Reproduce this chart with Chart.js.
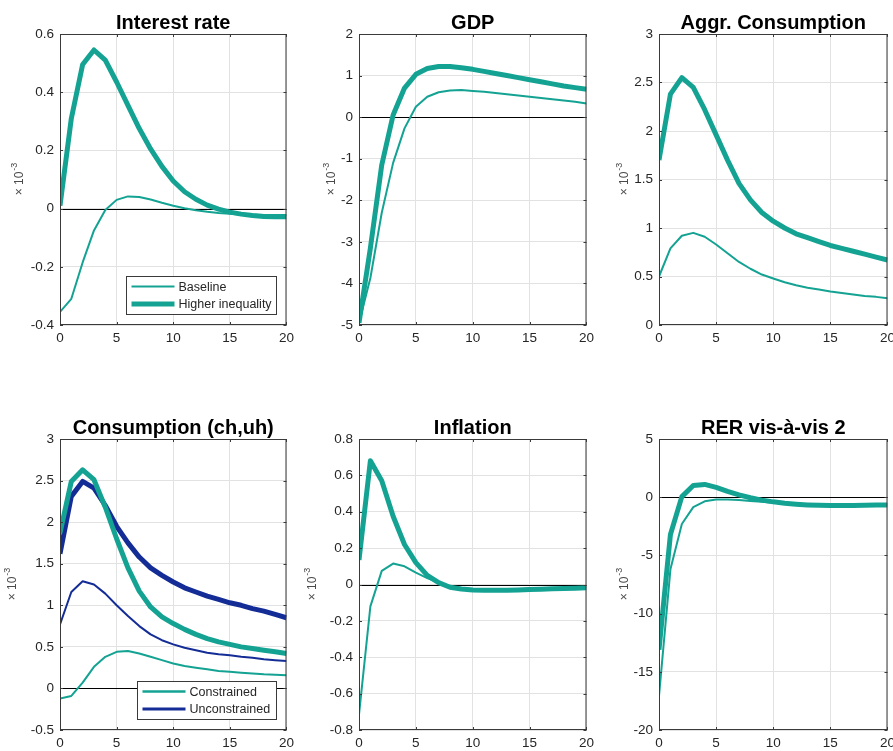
<!DOCTYPE html>
<html>
<head>
<meta charset="utf-8">
<script src="https://cdn.jsdelivr.net/npm/chart.js@4.4.1/dist/chart.umd.min.js"></script>
<style>
html, body { margin: 0; padding: 0; background: #fff; overflow: hidden; width: 893px; height: 751px; }
canvas { position: absolute; }
</style>
</head>
<body>
<script>
// horizon (quarters) and tick labels
const horizon = [0,1,2,3,4,5,6,7,8,9,10,11,12,13,14,15,16,17,18,19,20];
const xTicks = [0, 5, 10, 15, 20];

// Interest rate
const rateTicks = [-0.4, -0.2, 0, 0.2, 0.4, 0.6];
const rateBase = [-0.355,-0.31,-0.185,-0.075,-0.005,0.03,0.042,0.04,0.031,0.02,0.01,0.001,-0.006,-0.011,-0.015,-0.018,-0.02,-0.021,-0.022,-0.022,-0.022];
const rateHigh = [0.01,0.31,0.495,0.545,0.51,0.435,0.355,0.275,0.205,0.145,0.095,0.058,0.032,0.012,-0.002,-0.012,-0.019,-0.024,-0.027,-0.028,-0.028];

// GDP
const gdpTicks = [-5, -4, -3, -2, -1, 0, 1, 2];
const gdpBase = [-4.95,-3.87,-2.3,-1.1,-0.27,0.25,0.49,0.6,0.64,0.65,0.63,0.61,0.58,0.55,0.52,0.49,0.46,0.43,0.4,0.37,0.33];
const gdpHigh = [-4.95,-3.15,-1.15,0.05,0.7,1.03,1.17,1.22,1.22,1.19,1.15,1.1,1.05,1.0,0.95,0.9,0.85,0.8,0.75,0.71,0.67];

// Aggregate consumption
const consTicks = [0, 0.5, 1, 1.5, 2, 2.5, 3];
const consBase = [0.5,0.79,0.92,0.95,0.91,0.83,0.74,0.65,0.58,0.52,0.48,0.44,0.41,0.385,0.365,0.345,0.33,0.315,0.3,0.29,0.275];
const consHigh = [1.7,2.38,2.55,2.45,2.22,1.96,1.7,1.46,1.29,1.16,1.07,1.0,0.94,0.9,0.86,0.82,0.79,0.76,0.73,0.7,0.67];

// Consumption of constrained (ch) and unconstrained (uh) households
const chuhTicks = [-0.5, 0, 0.5, 1, 1.5, 2, 2.5, 3];
const chBase = [-0.12,-0.09,0.07,0.26,0.38,0.44,0.45,0.42,0.38,0.34,0.3,0.27,0.25,0.23,0.21,0.2,0.19,0.18,0.17,0.165,0.16];
const chHigh = [1.87,2.49,2.63,2.51,2.18,1.8,1.45,1.17,0.98,0.86,0.78,0.71,0.65,0.6,0.56,0.53,0.5,0.48,0.46,0.44,0.42];
const uhBase = [0.77,1.16,1.29,1.25,1.14,1.0,0.87,0.75,0.65,0.58,0.53,0.49,0.46,0.43,0.41,0.4,0.38,0.37,0.35,0.34,0.33];
const uhHigh = [1.62,2.31,2.49,2.41,2.2,1.95,1.75,1.58,1.45,1.36,1.28,1.21,1.16,1.11,1.07,1.03,1.0,0.96,0.93,0.89,0.85];

// Inflation
const inflTicks = [-0.8, -0.6, -0.4, -0.2, 0, 0.2, 0.4, 0.6, 0.8];
const inflBase = [-0.715,-0.12,0.075,0.115,0.1,0.065,0.035,0.01,-0.01,-0.02,-0.025,-0.027,-0.027,-0.026,-0.025,-0.024,-0.022,-0.021,-0.02,-0.019,-0.017];
const inflHigh = [0.135,0.68,0.57,0.375,0.22,0.12,0.05,0.01,-0.015,-0.025,-0.03,-0.032,-0.032,-0.031,-0.03,-0.028,-0.026,-0.024,-0.022,-0.02,-0.018];

// RER vis-a-vis 2
const rerTicks = [-20, -15, -10, -5, 0, 5];
const rerBase = [-17.1,-6.2,-2.3,-0.85,-0.35,-0.2,-0.2,-0.25,-0.32,-0.4,-0.47,-0.53,-0.58,-0.62,-0.65,-0.67,-0.67,-0.67,-0.66,-0.64,-0.62];
const rerHigh = [-13.1,-3.2,0.05,1.0,1.1,0.85,0.5,0.2,-0.05,-0.25,-0.4,-0.52,-0.6,-0.66,-0.7,-0.72,-0.72,-0.71,-0.7,-0.68,-0.66];

const TEAL = '#14a393';
const NAVY = '#142d96';
const TXT = '#262626';
const GRID = '#e2e2e2';
const FONT = "'Liberation Sans', Arial, sans-serif";
Chart.defaults.font.family = FONT;

const Y_W = 60, X_H = 26, PAD_T = 34, PAD_R = 12;

const panels = [
  { title: 'Interest rate', rect: [60, 34, 287, 325], yTicks: rateTicks, expOff: 40,
    lines: [{ label: 'Baseline', data: rateBase, color: TEAL, width: 2 },
            { label: 'Higher inequality', data: rateHigh, color: TEAL, width: 5 }],
    legend: { w: 150, items: [{ label: 'Baseline', color: TEAL, width: 2 },
                              { label: 'Higher inequality', color: TEAL, width: 5 }] } },
  { title: 'GDP', rect: [359, 34, 587, 325], yTicks: gdpTicks, expOff: 27,
    lines: [{ data: gdpBase, color: TEAL, width: 2 }, { data: gdpHigh, color: TEAL, width: 5 }] },
  { title: 'Aggr. Consumption', rect: [659, 34, 888, 325], yTicks: consTicks, expOff: 34,
    lines: [{ data: consBase, color: TEAL, width: 2 }, { data: consHigh, color: TEAL, width: 5 }] },
  { title: 'Consumption (ch,uh)', rect: [60, 439, 287, 730], yTicks: chuhTicks, expOff: 47,
    lines: [{ data: chBase, color: TEAL, width: 2 }, { data: uhBase, color: NAVY, width: 2 },
            { data: chHigh, color: TEAL, width: 5 }, { data: uhHigh, color: NAVY, width: 5 }],
    legend: { w: 139, items: [{ label: 'Constrained', color: TEAL, width: 2.5 },
                              { label: 'Unconstrained', color: NAVY, width: 3 }] } },
  { title: 'Inflation', rect: [359, 439, 587, 730], yTicks: inflTicks, expOff: 46,
    lines: [{ data: inflBase, color: TEAL, width: 2 }, { data: inflHigh, color: TEAL, width: 5 }] },
  { title: 'RER vis-\u00e0-vis 2', rect: [659, 439, 888, 730], yTicks: rerTicks, expOff: 34,
    lines: [{ data: rerBase, color: TEAL, width: 2 }, { data: rerHigh, color: TEAL, width: 5 }] }
];

// matlab-like axes: zero line, box, inward ticks, legend, title, exponent label
const matlabAxes = {
  id: 'matlabAxes',
  beforeDatasetsDraw(chart) {
    const { ctx, chartArea: a, scales: { y } } = chart;
    const y0 = Math.round(y.getPixelForValue(0)) + 0.5;
    if (y0 > a.top && y0 < a.bottom) {
      ctx.save();
      ctx.strokeStyle = '#000';
      ctx.lineWidth = 1;
      ctx.beginPath(); ctx.moveTo(a.left, y0); ctx.lineTo(a.right, y0); ctx.stroke();
      ctx.restore();
    }
  },
  afterDatasetsDraw(chart, args, o) {
    const { ctx, chartArea: a, scales: { x, y } } = chart;
    ctx.save();
    ctx.strokeStyle = '#3a3a3a';
    ctx.lineWidth = 1;
    ctx.strokeRect(a.left + 0.5, a.top + 0.5, a.right - a.left - 1, a.bottom - a.top - 1);
    ctx.beginPath();
    x.ticks.forEach(t => {
      const px = Math.round(x.getPixelForValue(t.value)) + 0.5;
      ctx.moveTo(px, a.bottom); ctx.lineTo(px, a.bottom - 3);
      ctx.moveTo(px, a.top); ctx.lineTo(px, a.top + 3);
    });
    y.ticks.forEach(t => {
      const py = Math.round(y.getPixelForValue(t.value)) + 0.5;
      ctx.moveTo(a.left, py); ctx.lineTo(a.left + 3, py);
      ctx.moveTo(a.right, py); ctx.lineTo(a.right - 3, py);
    });
    ctx.stroke();

    if (o.legend) {
      const L = o.legend, h = 38;
      const bx = Math.round(a.right - 10 - L.w) + 0.5;
      const by = Math.round(a.bottom - 11 - h) + 0.5;
      ctx.fillStyle = '#fff';
      ctx.fillRect(bx, by, L.w, h);
      ctx.strokeStyle = '#3a3a3a';
      ctx.lineWidth = 1;
      ctx.strokeRect(bx, by, L.w, h);
      ctx.font = '12.5px ' + FONT;
      ctx.textBaseline = 'middle';
      ctx.textAlign = 'left';
      L.items.forEach((it, i) => {
        const ry = by + 10 + i * 17.5;
        ctx.strokeStyle = it.color;
        ctx.lineWidth = it.width;
        ctx.beginPath(); ctx.moveTo(bx + 5, ry); ctx.lineTo(bx + 48, ry); ctx.stroke();
        ctx.fillStyle = TXT;
        ctx.fillText(it.label, bx + 52, ry + 1);
      });
    }
    ctx.restore();
  },
  afterDraw(chart, args, o) {
    const { ctx, chartArea: a } = chart;
    ctx.save();
    ctx.fillStyle = '#000';
    ctx.font = 'bold 20px ' + FONT;
    ctx.textAlign = 'center';
    ctx.textBaseline = 'alphabetic';
    ctx.fillText(o.title, (a.left + a.right) / 2, a.top - 5);

    // exponent label "x 10^-3", rotated
    ctx.translate(a.left - o.expOff, (a.top + a.bottom) / 2);
    ctx.rotate(-Math.PI / 2);
    ctx.fillStyle = '#4a4a4a';
    ctx.textAlign = 'left';
    ctx.textBaseline = 'middle';
    const base = '\u00d7 10', sup = '-3';
    ctx.font = '12px ' + FONT;
    const wb = ctx.measureText(base).width;
    ctx.font = '9px ' + FONT;
    const ws = ctx.measureText(sup).width;
    const x0 = -(wb + ws) / 2;
    ctx.font = '12px ' + FONT;
    ctx.fillText(base, x0, 0);
    ctx.font = '9px ' + FONT;
    ctx.fillText(sup, x0 + wb + 1, -5);
    ctx.restore();
  }
};

const fmt = v => String(Math.round(v * 1e6) / 1e6);

panels.forEach(p => {
  const [l, t, r, b] = p.rect;
  const w = (r - l) + Y_W + PAD_R, h = (b - t) + PAD_T + X_H;
  const cv = document.createElement('canvas');
  cv.width = w; cv.height = h;
  cv.style.left = (l - Y_W) + 'px';
  cv.style.top = (t - PAD_T) + 'px';
  cv.style.width = w + 'px';
  cv.style.height = h + 'px';
  document.body.appendChild(cv);

  new Chart(cv, {
    type: 'line',
    data: {
      datasets: p.lines.map(s => ({
        label: s.label || '',
        data: horizon.map((hx, i) => ({ x: hx, y: s.data[i] })),
        borderColor: s.color,
        borderWidth: s.width,
        borderJoinStyle: 'round',
        pointRadius: 0,
        tension: 0,
        fill: false
      }))
    },
    options: {
      responsive: false,
      animation: false,
      devicePixelRatio: 1,
      layout: { padding: { top: PAD_T, right: PAD_R, left: 0, bottom: 0 } },
      plugins: {
        legend: { display: false },
        tooltip: { enabled: false },
        matlabAxes: { title: p.title, expOff: p.expOff, legend: p.legend }
      },
      scales: {
        x: {
          type: 'linear', min: 0, max: 20,
          afterBuildTicks: s => { s.ticks = xTicks.map(v => ({ value: v })); },
          afterFit: s => { s.height = X_H; },
          grid: { color: GRID, drawTicks: false },
          border: { display: false },
          ticks: { padding: 5, color: TXT, font: { size: 13.5 }, maxRotation: 0, callback: fmt }
        },
        y: {
          type: 'linear', min: p.yTicks[0], max: p.yTicks[p.yTicks.length - 1],
          afterBuildTicks: s => { s.ticks = p.yTicks.map(v => ({ value: v })); },
          afterFit: s => { s.width = Y_W; },
          grid: { color: GRID, drawTicks: false },
          border: { display: false },
          ticks: { padding: 6, color: TXT, font: { size: 13.5 }, callback: fmt }
        }
      }
    },
    plugins: [matlabAxes]
  });
});
</script>
</body>
</html>
